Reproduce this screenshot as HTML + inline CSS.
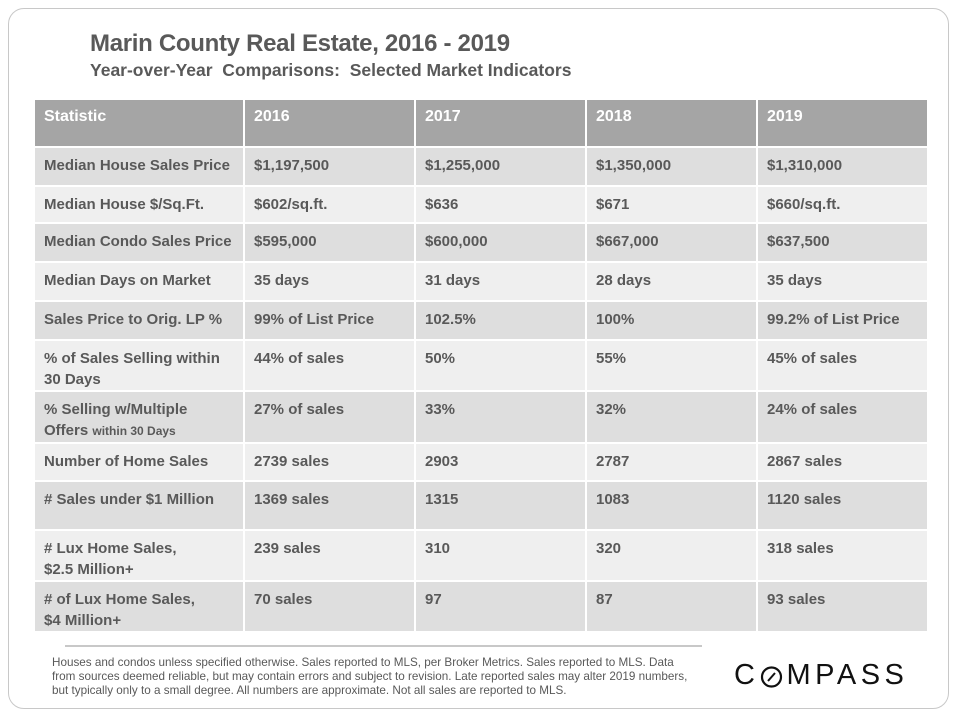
<!DOCTYPE html>
<html><head><meta charset="utf-8">
<style>
html,body{margin:0;padding:0;background:#fff;}
body{width:960px;height:720px;position:relative;overflow:hidden;font-family:"Liberation Sans",sans-serif;color:#595959;}
.frame{position:absolute;left:8px;top:8px;width:941px;height:701px;border:1px solid #c8c8c8;border-radius:16px;box-sizing:border-box;}
.title{position:absolute;left:90px;top:30px;font-size:24px;font-weight:bold;color:#595959;letter-spacing:-0.3px;}
.subtitle{position:absolute;left:90px;top:60px;font-size:17.5px;font-weight:bold;color:#595959;}
table{position:absolute;left:33px;top:98px;border-collapse:collapse;table-layout:fixed;}
td,th{border:2px solid #fff;padding:0 0 0 9px;vertical-align:top;text-align:left;font-size:15px;font-weight:bold;line-height:21px;box-sizing:border-box;white-space:nowrap;}
th{background:#a5a5a5;color:#fff;height:48px;padding-top:6px;font-size:16px;}
td{padding-top:7px;}
tr.d td{background:#dedede;}
tr.l td{background:#efefef;}
.sm{font-size:12px;}
.rule{position:absolute;left:65px;top:645px;width:637px;height:2px;background:#c8c8c8;}
.foot{position:absolute;left:52px;top:656px;width:700px;font-size:11.7px;line-height:14px;color:#595959;white-space:nowrap;}
.logo{position:absolute;left:734px;top:659px;font-size:29px;letter-spacing:4.5px;color:#111;font-weight:normal;}
</style></head>
<body>
<div class="frame"></div>
<div class="title">Marin County Real Estate, 2016 - 2019</div>
<div class="subtitle">Year-over-Year&nbsp; Comparisons:&nbsp; Selected Market Indicators</div>
<table>
<colgroup><col style="width:210px"><col style="width:171px"><col style="width:171px"><col style="width:171px"><col style="width:171px"></colgroup>
<tr><th>Statistic</th><th>2016</th><th>2017</th><th>2018</th><th>2019</th></tr>
<tr class="d" style="height:39px"><td>Median House Sales Price</td><td>$1,197,500</td><td>$1,255,000</td><td>$1,350,000</td><td>$1,310,000</td></tr>
<tr class="l" style="height:37px"><td>Median House $/Sq.Ft.</td><td>$602/sq.ft.</td><td>$636</td><td>$671</td><td>$660/sq.ft.</td></tr>
<tr class="d" style="height:39px"><td>Median Condo Sales Price</td><td>$595,000</td><td>$600,000</td><td>$667,000</td><td>$637,500</td></tr>
<tr class="l" style="height:39px"><td>Median Days on Market</td><td>35 days</td><td>31 days</td><td>28 days</td><td>35 days</td></tr>
<tr class="d" style="height:39px"><td>Sales Price to Orig. LP %</td><td>99% of List Price</td><td>102.5%</td><td>100%</td><td>99.2% of List Price</td></tr>
<tr class="l" style="height:51px"><td>% of Sales Selling within<br>30 Days</td><td>44% of sales</td><td>50%</td><td>55%</td><td>45% of sales</td></tr>
<tr class="d" style="height:50px"><td>% Selling w/Multiple<br>Offers <span class="sm">within 30 Days</span></td><td>27% of sales</td><td>33%</td><td>32%</td><td>24% of sales</td></tr>
<tr class="l" style="height:38px"><td>Number of Home Sales</td><td>2739 sales</td><td>2903</td><td>2787</td><td>2867 sales</td></tr>
<tr class="d" style="height:49px"><td># Sales under $1 Million</td><td>1369 sales</td><td>1315</td><td>1083</td><td>1120 sales</td></tr>
<tr class="l" style="height:50px"><td># Lux Home Sales,<br>$2.5 Million+</td><td>239 sales</td><td>310</td><td>320</td><td>318 sales</td></tr>
<tr class="d" style="height:50px"><td># of Lux Home Sales,<br>$4 Million+</td><td>70 sales</td><td>97</td><td>87</td><td>93 sales</td></tr>
</table>
<div class="rule"></div>
<div class="foot">Houses and condos unless specified otherwise. Sales reported to MLS, per Broker Metrics. Sales reported to MLS. Data<br>from sources deemed reliable, but may contain errors and subject to revision. Late reported sales may alter 2019 numbers,<br>but typically only to a small degree. All numbers are approximate. Not all sales are reported to MLS.</div>
<div class="logo">C<span style="display:inline-block;position:relative;color:transparent;">O<svg style="position:absolute;left:1px;top:7px" width="26" height="26" viewBox="0 0 26 26"><circle cx="11.5" cy="11" r="9.5" fill="none" stroke="#111" stroke-width="2.2"/><line x1="8" y1="15" x2="15" y2="7" stroke="#111" stroke-width="2"/></svg></span>MPASS</div>
</body></html>
